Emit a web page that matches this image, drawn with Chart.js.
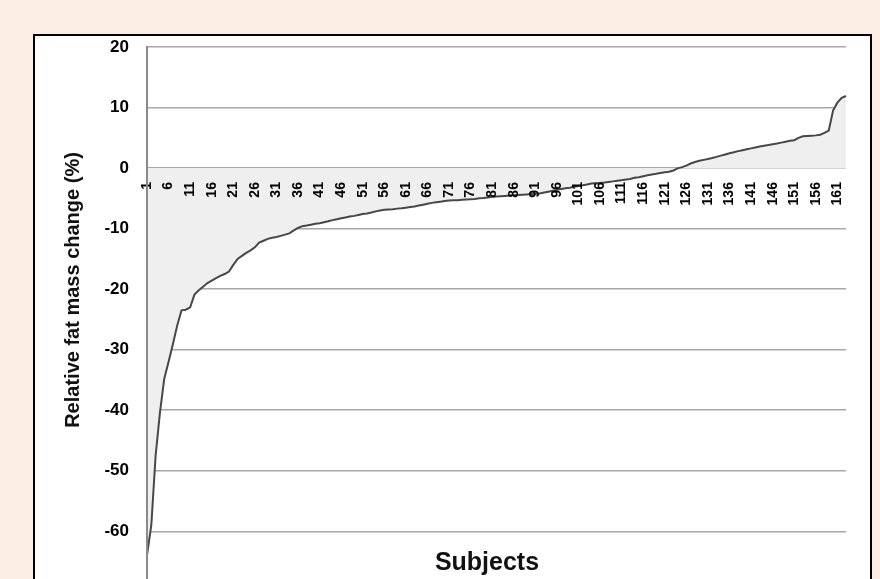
<!DOCTYPE html>
<html>
<head>
<meta charset="utf-8">
<script src="https://cdn.jsdelivr.net/npm/chart.js@4/dist/chart.umd.min.js"></script>
<style>
    html, body { margin: 0; padding: 0; overflow: hidden; background: #fdeee5; }
    #panel {
        position: absolute; left: 33px; top: 34px; width: 835px; height: 600px;
        background: #fff; border: 2px solid #000;
    }
    #wrap { position: absolute; left: 0; top: 0; width: 880px; height: 620px; }
</style>
</head>
<body>
<div id="panel"></div>
<div id="wrap"><canvas id="fatChart" width="880" height="620"></canvas></div>
<script>
// Subjects sorted by relative fat mass change (%)
const subjects = Array.from({ length: 163 }, (_, i) => String(i + 1));
const fatChange = [
    -64, -59, -47.5, -40.4, -34.8, -32.0, -29.1, -26.0, -23.5, -23.4,
    -23.0, -20.9, -20.2, -19.6, -19.0, -18.6, -18.2, -17.8, -17.5, -17.1,
    -16.0, -15.0, -14.5, -14.0, -13.6, -13.1, -12.3, -12.0, -11.7, -11.5,
    -11.4, -11.2, -11.0, -10.8, -10.3, -9.9, -9.6, -9.5, -9.35, -9.2,
    -9.1, -8.95, -8.8, -8.6, -8.45, -8.3, -8.15, -8.0, -7.9, -7.75,
    -7.6, -7.5, -7.35, -7.15, -7.0, -6.9, -6.85, -6.8, -6.7, -6.65,
    -6.55, -6.45, -6.35, -6.2, -6.05, -5.9, -5.75, -5.65, -5.55, -5.45,
    -5.35, -5.3, -5.3, -5.25, -5.2, -5.15, -5.1, -5.0, -4.95, -4.85,
    -4.75, -4.7, -4.65, -4.6, -4.55, -4.5, -4.45, -4.4, -4.35, -4.3,
    -4.25, -4.2, -4.05, -3.9, -3.75, -3.6, -3.45, -3.35, -3.25, -3.1,
    -2.95, -2.85, -2.7, -2.55, -2.5, -2.45, -2.4, -2.3, -2.2, -2.1,
    -2.0, -1.9, -1.8, -1.6, -1.5, -1.35, -1.2, -1.05, -0.95, -0.8,
    -0.7, -0.6, -0.4, -0.05, 0.15, 0.4, 0.75, 1.0, 1.2, 1.35,
    1.5, 1.65, 1.85, 2.05, 2.25, 2.45, 2.6, 2.8, 2.95, 3.1,
    3.25, 3.4, 3.55, 3.7, 3.8, 3.95, 4.05, 4.2, 4.35, 4.5,
    4.6, 5.0, 5.25, 5.3, 5.35, 5.4, 5.5, 5.8, 6.2, 9.5,
    10.8, 11.6, 11.9
];
const yMin = -70, yMax = 20, yStep = 10;
const xTitle = 'Subjects';
const yTitle = 'Relative fat mass change (%)';

const FONT = '"Liberation Sans", Arial, sans-serif';

// axis titles drawn over the chart like in the original figure
const axisTitles = {
    id: 'axisTitles',
    afterDraw(chart) {
        const ctx = chart.ctx;
        ctx.save();
        ctx.fillStyle = '#111';
        ctx.textAlign = 'center';
        ctx.textBaseline = 'middle';
        ctx.font = 'bold 25px ' + FONT;
        ctx.fillText(xTitle, 487, 563);
        ctx.translate(73, 290);
        ctx.rotate(-Math.PI / 2);
        ctx.font = 'bold 20px ' + FONT;
        ctx.fillText(yTitle, 0, 0);
        ctx.restore();
    }
};

const ctx = document.getElementById('fatChart').getContext('2d');
new Chart(ctx, {
    type: 'line',
    data: {
        labels: subjects,
        datasets: [{
            data: fatChange,
            borderColor: '#474747',
            borderWidth: 2,
            backgroundColor: '#efefef',
            fill: 'origin',
            pointRadius: 0,
            tension: 0
        }]
    },
    options: {
        responsive: false,
        animation: false,
        layout: { padding: { left: 0, top: 47, right: 34, bottom: 28 } },
        plugins: {
            legend: { display: false },
            tooltip: { enabled: false }
        },
        scales: {
            x: {
                type: 'category',
                position: { y: 0 },
                offset: false,
                grid: { display: false, drawTicks: false },
                border: { display: false },
                ticks: {
                    z: 1,
                    autoSkip: false,
                    minRotation: 90,
                    maxRotation: 90,
                    padding: 14,
                    color: '#000',
                    font: { family: FONT, size: 14, weight: 'bold' },
                    callback: function(value, index) {
                        return index % 5 === 0 ? this.getLabelForValue(value) : null;
                    }
                }
            },
            y: {
                min: yMin,
                max: yMax,
                afterFit: function(scale) { scale.width = 147; },
                grid: { color: '#a8a8a8', lineWidth: 1.5, drawTicks: false },
                border: { display: true, color: '#8a8a8a', width: 2, z: 1 },
                ticks: {
                    stepSize: yStep,
                    padding: 18,
                    color: '#000',
                    font: { family: FONT, size: 17, weight: 'bold' }
                }
            }
        }
    },
    plugins: [axisTitles]
});
</script>
</body>
</html>
